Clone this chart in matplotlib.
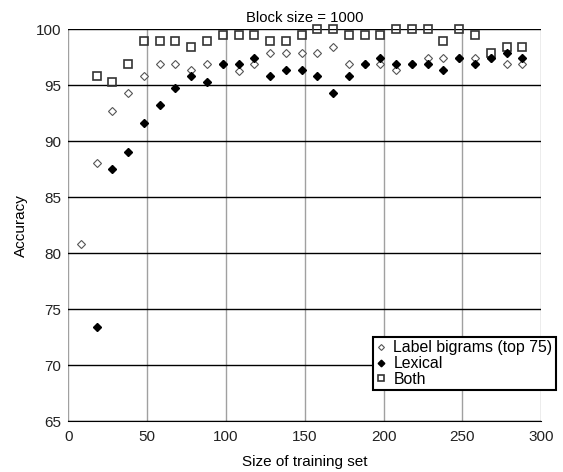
import numpy as np
import matplotlib.pyplot as plt

plt.rcParams['font.family'] = ['Liberation Sans', 'DejaVu Sans']
plt.rcParams['font.size'] = 11

# training set sizes
x_bigram = np.arange(8, 289, 10)
x_other = np.arange(18, 289, 10)

bigram = [80.8, 88.06, 92.73, 94.29, 95.83, 96.9, 96.9, 96.37, 96.9, 96.9,
          96.3, 96.9, 97.9, 97.9, 97.9, 97.9, 98.45, 96.9, 96.9, 96.9,
          96.37, 96.9, 97.41, 97.41, 97.41, 97.41, 97.41, 96.9, 96.9]
lexical = [73.4, 87.5, 89.07, 91.66, 93.21, 94.79, 95.83, 95.32, 96.9, 96.9,
           97.41, 95.83, 96.37, 96.37, 95.83, 94.29, 95.83, 96.9, 97.41, 96.9,
           96.9, 96.9, 96.37, 97.41, 96.9, 97.41, 97.9, 97.41]
both = [95.8, 95.32, 96.9, 98.95, 98.95, 98.95, 98.45, 98.95, 99.49, 99.49,
        99.49, 98.95, 98.95, 99.49, 100, 100, 99.49, 99.49, 99.49, 100,
        100, 100, 98.95, 100, 99.49, 97.9, 98.45, 98.45]

fig = plt.figure(figsize=(5.63, 4.72), dpi=100)
ax = fig.add_axes([0.1213, 0.1074, 0.84, 0.8305])

for y in range(65, 101, 5):
    ax.axhline(y, color='black', lw=1.0, zorder=1)
for x in range(0, 301, 50):
    ax.axvline(x, color='#a0a0a0', lw=1.0, zorder=0.5)

ax.plot(x_bigram, bigram, 'D', ms=4, mfc='white', mec='#555555', mew=0.8,
        label='Label bigrams (top 75)', clip_on=False, zorder=3)
ax.plot(x_other, lexical, 'D', ms=4.5, mfc='black', mec='black',
        label='Lexical', clip_on=False, zorder=4)
ax.plot(x_other, both, 's', ms=5.8, mfc='none', mec='#333333', mew=1.2,
        label='Both', clip_on=False, zorder=2)

ax.set_xlim(0, 300)
ax.set_ylim(65, 100)
ax.set_xticks(range(0, 301, 50))
ax.set_yticks(range(65, 101, 5))
ax.tick_params(length=0, colors='#222222')
ax.tick_params(axis='x', pad=6)
ax.tick_params(axis='y', pad=5)
for s in ['top', 'right', 'left']:
    ax.spines[s].set_visible(False)
ax.spines['bottom'].set_color('black')

ax.set_title('Block size = 1000', fontsize=10.7, pad=5.5)
ax.set_xlabel('Size of training set', labelpad=8)
ax.set_ylabel('Accuracy', labelpad=6)

leg = ax.legend(loc='upper left', bbox_to_anchor=(0.662, 0.2854),
                bbox_transform=fig.transFigure, borderaxespad=0,
                fancybox=False, handlelength=0.7, handletextpad=0.4,
                borderpad=0.2, labelspacing=0.05, framealpha=1,
                markerscale=0.75, fontsize=11.4)
leg.get_frame().set_edgecolor('black')
leg.get_frame().set_linewidth(1.5)

fig.savefig('out.png', dpi=100)
